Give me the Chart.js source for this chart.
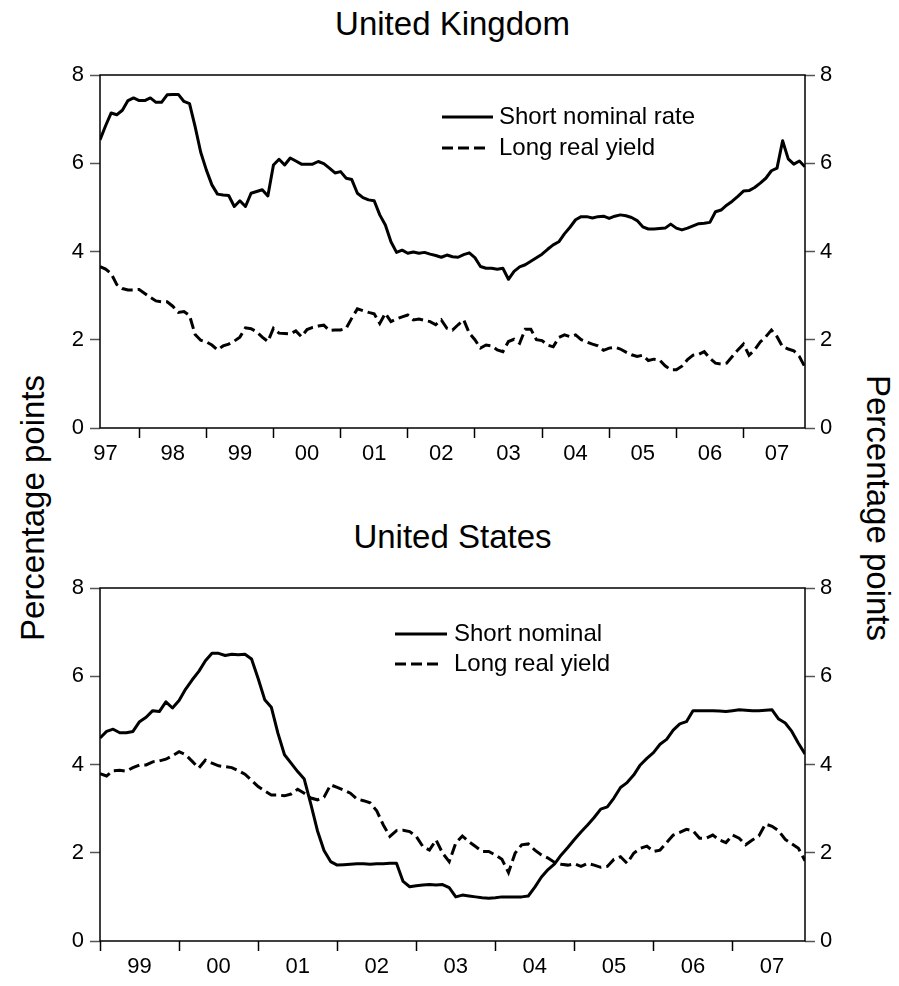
<!DOCTYPE html>
<html>
<head>
<meta charset="utf-8">
<script src="https://cdn.jsdelivr.net/npm/chart.js@4.4.1/dist/chart.umd.min.js"></script>
<style>
  body { margin: 0; background: #fff; width: 899px; height: 986px; position: relative; overflow: hidden;
         font-family: "Liberation Sans", Arial, sans-serif; color: #000; }
  canvas { position: absolute; left: 0; }
  .title { position: absolute; left: 0; width: 905px; text-align: center; font-size: 33px; line-height: 33px; }
  .side { position: absolute; font-size: 33px; line-height: 33px; white-space: nowrap; }
</style>
</head>
<body>
<div class="title" style="top:7px">United Kingdom</div>
<div class="title" style="top:520px">United States</div>
<div class="side" style="left:32px;top:508px;transform:translate(-50%,-50%) rotate(-90deg)">Percentage points</div>
<div class="side" style="left:878px;top:508px;transform:translate(-50%,-50%) rotate(90deg)">Percentage points</div>
<canvas id="uk" width="899" height="480" style="top:0"></canvas>
<canvas id="us" width="899" height="506" style="top:480px"></canvas>
<script>
const FONT = '"Liberation Sans", Arial, sans-serif';

// monthly, Jun 1997 - Dec 2007
const ukStart = [1997, 6];
const ukShort = [
  6.53, 6.85, 7.14, 7.10, 7.20, 7.42, 7.48, 7.42, 7.42, 7.48, 7.38, 7.38,
  7.55, 7.56, 7.56, 7.40, 7.35, 6.83, 6.25, 5.85, 5.51, 5.30, 5.28, 5.27,
  5.02, 5.15, 5.02, 5.32, 5.36, 5.40, 5.26, 5.96, 6.09, 5.96, 6.12, 6.05,
  5.98, 5.98, 5.98, 6.04, 5.99, 5.89, 5.78, 5.81, 5.66, 5.63, 5.32, 5.22,
  5.17, 5.15, 4.83, 4.60, 4.22, 3.98, 4.03, 3.96, 3.99, 3.96, 3.98, 3.94,
  3.91, 3.87, 3.92, 3.88, 3.87, 3.93, 3.97, 3.86, 3.66, 3.62, 3.62, 3.60,
  3.62, 3.37, 3.55, 3.65, 3.70, 3.78, 3.86, 3.94, 4.05, 4.15, 4.22, 4.40,
  4.55, 4.72, 4.79, 4.79, 4.76, 4.79, 4.80, 4.75, 4.80, 4.83, 4.81, 4.77,
  4.70, 4.56, 4.51, 4.51, 4.52, 4.53, 4.62, 4.53, 4.49, 4.53, 4.58, 4.63,
  4.64, 4.66, 4.90, 4.94, 5.05, 5.14, 5.25, 5.37, 5.38, 5.45, 5.55, 5.66,
  5.83, 5.89, 6.51, 6.10, 5.98, 6.05, 5.92
];
const ukLong = [
  3.66, 3.60, 3.50, 3.25, 3.16, 3.13, 3.13, 3.14, 3.05, 2.96, 2.88, 2.86,
  2.86, 2.76, 2.62, 2.64, 2.55, 2.12, 1.99, 1.95, 1.88, 1.77, 1.86, 1.90,
  1.97, 2.06, 2.27, 2.25, 2.18, 2.06, 1.96, 2.26, 2.15, 2.14, 2.13, 2.20,
  2.07, 2.23, 2.28, 2.31, 2.33, 2.21, 2.22, 2.22, 2.26, 2.49, 2.70, 2.66,
  2.62, 2.59, 2.37, 2.60, 2.41, 2.47, 2.52, 2.56, 2.45, 2.47, 2.44, 2.41,
  2.34, 2.45, 2.26, 2.22, 2.34, 2.45, 2.15, 2.00, 1.81, 1.88, 1.86, 1.77,
  1.73, 1.96, 2.01, 1.92, 2.24, 2.24, 2.00, 1.98, 1.88, 1.84, 2.05, 2.11,
  2.07, 2.11, 2.00, 1.95, 1.90, 1.86, 1.76, 1.81, 1.83, 1.79, 1.72, 1.66,
  1.62, 1.65, 1.53, 1.56, 1.54, 1.41, 1.32, 1.32, 1.40, 1.55, 1.65, 1.67,
  1.73, 1.58, 1.47, 1.45, 1.47, 1.62, 1.77, 1.90, 1.65, 1.77, 1.95, 2.07,
  2.22, 2.07, 1.84, 1.79, 1.75, 1.62, 1.38
];
const ukYears = [1997, 1998, 1999, 2000, 2001, 2002, 2003, 2004, 2005, 2006, 2007];
const ukYearLabels = ["97", "98", "99", "00", "01", "02", "03", "04", "05", "06", "07"];

// monthly, Jan 1999 - Dec 2007
const usStart = [1999, 1];
const usShort = [
  4.60, 4.75, 4.80, 4.72, 4.72, 4.75, 4.97, 5.07, 5.22, 5.20, 5.42, 5.28,
  5.45, 5.71, 5.92, 6.11, 6.35, 6.52, 6.52, 6.47, 6.50, 6.49, 6.50, 6.39,
  5.95, 5.47, 5.30, 4.71, 4.22, 4.03, 3.84, 3.67, 3.10, 2.50, 2.05, 1.80,
  1.72, 1.73, 1.74, 1.75, 1.75, 1.74, 1.75, 1.75, 1.76, 1.76, 1.35, 1.23,
  1.25, 1.27, 1.28, 1.27, 1.28, 1.21, 1.00, 1.04, 1.02, 1.00, 0.98, 0.97,
  0.98, 1.00, 1.00, 1.00, 1.00, 1.02, 1.22, 1.45, 1.62, 1.75, 1.95, 2.12,
  2.30, 2.47, 2.63, 2.80, 2.99, 3.04, 3.24, 3.48, 3.59, 3.76, 3.99, 4.14,
  4.27, 4.46, 4.57, 4.78, 4.92, 4.97, 5.22, 5.22, 5.22, 5.22, 5.21, 5.20,
  5.22, 5.24, 5.23, 5.22, 5.22, 5.23, 5.24, 5.03, 4.94, 4.75, 4.48, 4.24
];
const usLong = [
  3.79, 3.74, 3.86, 3.87, 3.85, 3.93, 3.99, 3.99, 4.06, 4.08, 4.12, 4.20,
  4.29, 4.22, 4.07, 3.92, 4.10, 4.03, 3.97, 3.95, 3.93, 3.86, 3.78, 3.64,
  3.50, 3.40, 3.31, 3.31, 3.29, 3.33, 3.44, 3.35, 3.24, 3.20, 3.26, 3.54,
  3.48, 3.42, 3.35, 3.22, 3.18, 3.13, 2.95, 2.63, 2.37, 2.50, 2.51, 2.48,
  2.37, 2.14, 2.06, 2.29, 1.99, 1.80, 2.22, 2.38, 2.25, 2.14, 2.03, 2.03,
  1.95, 1.85, 1.55, 1.99, 2.18, 2.20, 2.06, 1.95, 1.88, 1.78, 1.74, 1.72,
  1.75, 1.69, 1.76, 1.72, 1.67, 1.69, 1.85, 1.91, 1.76, 1.99, 2.10, 2.15,
  2.03, 2.06, 2.23, 2.40, 2.46, 2.53, 2.50, 2.33, 2.33, 2.40, 2.29, 2.23,
  2.40, 2.33, 2.18, 2.29, 2.38, 2.65, 2.60, 2.50, 2.30, 2.20, 2.10, 1.82
];
const usYears = [1999, 2000, 2001, 2002, 2003, 2004, 2005, 2006, 2007];
const usYearLabels = ["99", "00", "01", "02", "03", "04", "05", "06", "07"];

const yTicks = [0, 2, 4, 6, 8];

// month i after start -> fractional year
const monthPos = (start, i) => start[0] + (start[1] - 1 + i) / 12;
const toPoints = (start, arr) => arr.map((v, i) => ({ x: monthPos(start, i), y: v }));

const frame = {
  id: "frame",
  afterDatasetsDraw(chart) {
    const { ctx, chartArea: a } = chart;
    ctx.save();
    ctx.strokeStyle = "#000";
    ctx.lineWidth = 1.5;
    ctx.strokeRect(a.left, a.top, a.right - a.left, a.bottom - a.top);
    ctx.restore();
  },
};

const key = {
  id: "key",
  afterDraw(chart, args, o) {
    const ctx = chart.ctx;
    chart.data.datasets.forEach((d, i) => {
      const y = o.y0 + i * o.dy;
      ctx.save();
      ctx.strokeStyle = d.borderColor;
      ctx.lineWidth = d.borderWidth;
      ctx.setLineDash(d.borderDash || []);
      ctx.beginPath();
      ctx.moveTo(o.x0, y);
      ctx.lineTo(o.ends[i], y);
      ctx.stroke();
      ctx.setLineDash([]);
      ctx.fillStyle = "#000";
      ctx.font = "24px " + FONT;
      ctx.textBaseline = "middle";
      ctx.fillText(d.label, o.tx, y);
      ctx.restore();
    });
  },
};

function makeChart(id, c) {
  const n = c.short.length;
  const xmin = monthPos(c.start, 0);
  const xmax = monthPos(c.start, n - 1);
  const xTicks = [];
  c.years.forEach((yr) => {
    if (yr >= xmin - 1e-6) xTicks.push(yr);
    xTicks.push(yr + 0.5);
  });

  const yAxis = (pos, width, pad) => ({
    type: "linear",
    position: pos,
    min: 0,
    max: 8,
    afterBuildTicks: (s) => { s.ticks = yTicks.map((v) => ({ value: v })); },
    afterFit: (s) => { s.width = width; },
    ticks: { padding: pad, color: "#000", font: { family: FONT, size: 22 } },
    grid: { drawOnChartArea: false, tickLength: 10, tickWidth: 1.5, tickColor: "#555" },
    border: { display: false },
  });

  return new Chart(document.getElementById(id), {
    type: "line",
    data: {
      datasets: [
        {
          label: c.labels[0],
          data: toPoints(c.start, c.short),
          borderColor: "#000",
          borderWidth: 3,
          pointRadius: 0,
          tension: 0,
          borderJoinStyle: "round",
          yAxisID: "y",
        },
        {
          label: c.labels[1],
          data: toPoints(c.start, c.long),
          borderColor: "#000",
          borderWidth: 3,
          borderDash: [11, 5],
          pointRadius: 0,
          tension: 0,
          yAxisID: "y",
        },
      ],
    },
    options: {
      responsive: false,
      animation: false,
      layout: { padding: { top: c.top, left: 0, right: 0, bottom: 0 } },
      plugins: {
        legend: { display: false },
        tooltip: { enabled: false },
        key: c.key,
      },
      scales: {
        x: {
          type: "linear",
          min: xmin,
          max: xmax,
          afterBuildTicks: (s) => { s.ticks = xTicks.map((v) => ({ value: v })); },
          afterFit: (s) => { s.height = c.xh; },
          ticks: {
            autoSkip: false,
            maxRotation: 0,
            padding: 3,
            color: "#000",
            font: { family: FONT, size: 22 },
            callback: (v) => (Number.isInteger(v) ? "" : c.yearLabels[c.years.indexOf(Math.floor(v))]),
          },
          grid: {
            drawOnChartArea: false,
            tickLength: 10,
            tickWidth: 1.5,
            tickColor: (ctx) => (ctx.tick && Number.isInteger(ctx.tick.value) ? "#000" : "rgba(0,0,0,0)"),
          },
          border: { display: false },
        },
        y: yAxis("left", 100, 6),
        y2: yAxis("right", 94, 5),
      },
    },
    plugins: [frame, key],
  });
}

makeChart("uk", {
  start: ukStart, short: ukShort, long: ukLong,
  years: ukYears, yearLabels: ukYearLabels,
  labels: ["Short nominal rate", "Long real yield"],
  top: 75, xh: 52,
  key: { x0: 442, ends: [493, 486], tx: 499, y0: 117, dy: 31 },
});

makeChart("us", {
  start: usStart, short: usShort, long: usLong,
  years: usYears, yearLabels: usYearLabels,
  labels: ["Short nominal", "Long real yield"],
  top: 108, xh: 45,
  key: { x0: 395, ends: [447, 440], tx: 454, y0: 154, dy: 30 },
});
</script>
</body>
</html>
